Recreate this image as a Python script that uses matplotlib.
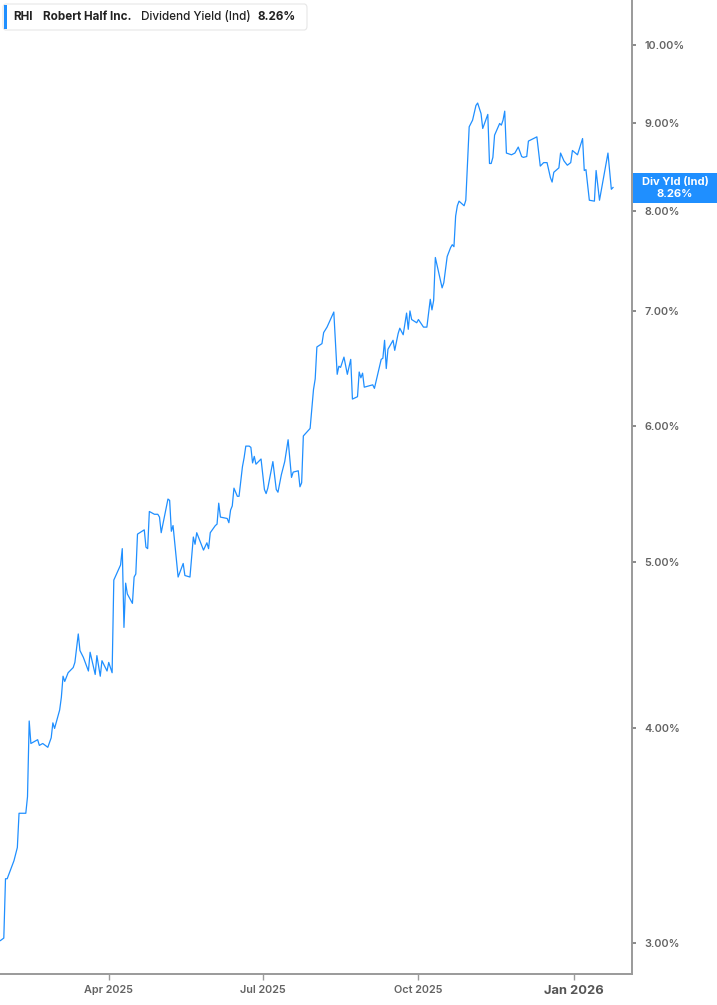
import matplotlib
matplotlib.use("Agg")
import matplotlib.pyplot as plt
from matplotlib.patches import Rectangle, FancyBboxPatch
import pandas as pd

# Robert Half (RHI) indicated dividend yield
dates = [
    "2025-01-27", "2025-01-29", "2025-01-30", "2025-01-31", "2025-02-04", "2025-02-06",
    "2025-02-07", "2025-02-11", "2025-02-12", "2025-02-13", "2025-02-14", "2025-02-18",
    "2025-02-19", "2025-02-21", "2025-02-24", "2025-02-26", "2025-02-27", "2025-02-28",
    "2025-03-03", "2025-03-04", "2025-03-05", "2025-03-06", "2025-03-08", "2025-03-11",
    "2025-03-12", "2025-03-14", "2025-03-15", "2025-03-17", "2025-03-20", "2025-03-21",
    "2025-03-24", "2025-03-25", "2025-03-27", "2025-03-28", "2025-03-31", "2025-04-01",
    "2025-04-03", "2025-04-04", "2025-04-08", "2025-04-09", "2025-04-10", "2025-04-11",
    "2025-04-12", "2025-04-15", "2025-04-16", "2025-04-17", "2025-04-18", "2025-04-22",
    "2025-04-23", "2025-04-24", "2025-04-25", "2025-04-28", "2025-04-30", "2025-05-01",
    "2025-05-02", "2025-05-06", "2025-05-07", "2025-05-08", "2025-05-09", "2025-05-12",
    "2025-05-15", "2025-05-16", "2025-05-19", "2025-05-21", "2025-05-22", "2025-05-23",
    "2025-05-27", "2025-05-29", "2025-05-30", "2025-05-31", "2025-06-03", "2025-06-04",
    "2025-06-05", "2025-06-06", "2025-06-10", "2025-06-11", "2025-06-12", "2025-06-13",
    "2025-06-14", "2025-06-16", "2025-06-17", "2025-06-19", "2025-06-20", "2025-06-21",
    "2025-06-23", "2025-06-24", "2025-06-25", "2025-06-26", "2025-06-27", "2025-06-30",
    "2025-07-02", "2025-07-03", "2025-07-04", "2025-07-07", "2025-07-09", "2025-07-10",
    "2025-07-12", "2025-07-14", "2025-07-16", "2025-07-18", "2025-07-19", "2025-07-22",
    "2025-07-23", "2025-07-24", "2025-07-25", "2025-07-29", "2025-07-31", "2025-08-01",
    "2025-08-02", "2025-08-05", "2025-08-06", "2025-08-08", "2025-08-12", "2025-08-14",
    "2025-08-15", "2025-08-16", "2025-08-18", "2025-08-20", "2025-08-22", "2025-08-23",
    "2025-08-26", "2025-08-27", "2025-08-28", "2025-08-29", "2025-08-30", "2025-09-04",
    "2025-09-05", "2025-09-09", "2025-09-10", "2025-09-11", "2025-09-12", "2025-09-13",
    "2025-09-16", "2025-09-17", "2025-09-19", "2025-09-20", "2025-09-22", "2025-09-24",
    "2025-09-25", "2025-09-26", "2025-09-27", "2025-09-30", "2025-10-01", "2025-10-04",
    "2025-10-06", "2025-10-08", "2025-10-09", "2025-10-10", "2025-10-11", "2025-10-13",
    "2025-10-15", "2025-10-16", "2025-10-18", "2025-10-20", "2025-10-21", "2025-10-22",
    "2025-10-23", "2025-10-24", "2025-10-25", "2025-10-28", "2025-10-29", "2025-10-30",
    "2025-10-31", "2025-11-02", "2025-11-04", "2025-11-05", "2025-11-07", "2025-11-08",
    "2025-11-11", "2025-11-12", "2025-11-13", "2025-11-14", "2025-11-15", "2025-11-18",
    "2025-11-19", "2025-11-20", "2025-11-21", "2025-11-22", "2025-11-25", "2025-11-27",
    "2025-11-29", "2025-12-01", "2025-12-02", "2025-12-04", "2025-12-05", "2025-12-10",
    "2025-12-12", "2025-12-14", "2025-12-16", "2025-12-18", "2025-12-19", "2025-12-20",
    "2025-12-23", "2025-12-24", "2025-12-26", "2025-12-28", "2025-12-30", "2025-12-31",
    "2026-01-03", "2026-01-06", "2026-01-07", "2026-01-08", "2026-01-10", "2026-01-13",
    "2026-01-14", "2026-01-16", "2026-01-18", "2026-01-21", "2026-01-23", "2026-01-24",
]
div_yield = [
    3.01, 3.02, 3.27, 3.27, 3.35, 3.41,
    3.57, 3.57, 3.65, 4.04, 3.92, 3.94,
    3.91, 3.92, 3.90, 3.95, 4.03, 4.00,
    4.10, 4.17, 4.29, 4.26, 4.31, 4.34,
    4.37, 4.54, 4.44, 4.40, 4.32, 4.43,
    4.30, 4.41, 4.29, 4.38, 4.32, 4.37,
    4.31, 4.88, 4.98, 5.09, 4.58, 4.86,
    4.79, 4.73, 4.90, 4.92, 5.19, 5.22,
    5.10, 5.09, 5.35, 5.33, 5.33, 5.31,
    5.20, 5.44, 5.43, 5.21, 5.25, 4.90,
    4.99, 4.91, 4.90, 5.17, 5.12, 5.20,
    5.08, 5.13, 5.09, 5.20, 5.25, 5.26,
    5.41, 5.31, 5.30, 5.27, 5.36, 5.39,
    5.52, 5.46, 5.46, 5.68, 5.75, 5.84,
    5.84, 5.83, 5.71, 5.76, 5.70, 5.74,
    5.51, 5.48, 5.52, 5.72, 5.51, 5.49,
    5.62, 5.72, 5.89, 5.60, 5.64, 5.65,
    5.53, 5.56, 5.92, 5.98, 6.30, 6.39,
    6.67, 6.70, 6.80, 6.85, 6.99, 6.43,
    6.50, 6.49, 6.58, 6.43, 6.56, 6.22,
    6.24, 6.45, 6.40, 6.44, 6.32, 6.34,
    6.31, 6.56, 6.57, 6.73, 6.48, 6.65,
    6.73, 6.64, 6.79, 6.84, 6.78, 6.98,
    6.83, 7.00, 6.92, 6.89, 6.92, 6.85,
    6.85, 7.11, 7.01, 7.10, 7.52, 7.37,
    7.22, 7.27, 7.53, 7.62, 7.65, 7.63,
    7.95, 8.06, 8.11, 8.06, 8.12, 8.54,
    8.96, 9.04, 9.22, 9.25, 9.12, 8.94,
    9.11, 8.53, 8.53, 8.60, 8.86, 9.00,
    8.98, 9.04, 9.15, 8.65, 8.63, 8.65,
    8.72, 8.61, 8.60, 8.61, 8.79, 8.84,
    8.50, 8.54, 8.54, 8.37, 8.32, 8.43,
    8.48, 8.65, 8.56, 8.51, 8.54, 8.68,
    8.63, 8.82, 8.45, 8.46, 8.12, 8.11,
    8.45, 8.12, 8.33, 8.65, 8.24, 8.26,
]
y_ticks = [3, 4, 5, 6, 7, 8, 9, 10]
x_ticks = ["2025-04-01", "2025-07-01", "2025-10-01", "2026-01-01"]
x_tick_labels = ["Apr 2025", "Jul 2025", "Oct 2025", "Jan 2026"]
ticker, company, metric = "RHI", "Robert Half Inc.", "Dividend Yield (Ind)"
tag_title = "Div Yld (Ind)"

plt.rcParams['font.family'] = ['Inter', 'DejaVu Sans']

blue = '#1f8fff'
axis_grey = '#9a9a9a'
label_grey = '#636363'

W, H = 717, 1005
fig = plt.figure(figsize=(W / 100, H / 100), dpi=100)
ax = fig.add_axes([0, 31 / H, 632 / W, 974 / H])

x = pd.to_datetime(dates)
ax.plot(x, div_yield, color=blue, lw=0.9)

ax.set_yscale('log')
ax.set_ylim(2.878, 10.62)
ax.set_xlim(pd.Timestamp("2025-01-26 18:00"), pd.Timestamp("2026-02-04 05:00"))

ax.yaxis.tick_right()
ax.yaxis.set_major_locator(matplotlib.ticker.FixedLocator(y_ticks))
ax.yaxis.set_major_formatter(matplotlib.ticker.FuncFormatter(lambda v, p: f"{v:.2f}%"))
ax.yaxis.set_minor_locator(matplotlib.ticker.NullLocator())
ax.tick_params(axis='y', which='major', length=3, width=1.2, color='#777777',
               labelsize=7.8, labelcolor=label_grey, pad=6)

ax.set_xticks(pd.to_datetime(x_ticks))
ax.set_xticklabels(x_tick_labels)
ax.tick_params(axis='x', length=4, width=1, color=axis_grey, labelsize=7.8,
               labelcolor=label_grey, pad=4)
last = ax.get_xticklabels()[-1]
for lab in ax.get_xticklabels() + ax.get_yticklabels():
    lab.set_fontweight('semibold')
last.set_fontweight('bold')
last.set_fontsize(9.3)
last.set_color('#555555')

for s in ['top', 'left']:
    ax.spines[s].set_visible(False)
for s in ['right', 'bottom']:
    ax.spines[s].set_color(axis_grey)
    ax.spines[s].set_linewidth(1.4)


def fx(px):
    return px / W


def fy(py):
    return 1 - py / H


# title box top-left
fig.patches.append(FancyBboxPatch((fx(3), fy(30)), fx(304), 26 / H,
                                  boxstyle="round,pad=0,rounding_size=0.004",
                                  transform=fig.transFigure, facecolor='white',
                                  edgecolor='#e6e6e6', lw=0.8, zorder=5))
fig.patches.append(Rectangle((fx(4), fy(29)), fx(3), 24 / H, transform=fig.transFigure,
                             facecolor=blue, edgecolor='none', zorder=6))
ty = fy(17)
fig.text(fx(13), ty, ticker, fontsize=8.4, fontweight='bold', color='#222222', va='center', zorder=7)
fig.text(fx(43), ty, company, fontsize=8.4, fontweight='bold', color='#222222', va='center', zorder=7)
fig.text(fx(141), ty, metric, fontsize=8.4, fontweight='medium', color='#222222', va='center', zorder=7)
fig.text(fx(258), ty, f"{div_yield[-1]:.2f}%", fontsize=8.4, fontweight='bold', color='#222222',
         va='center', zorder=7)

# last value tag on the right axis
fig.patches.append(Rectangle((fx(633), fy(203)), fx(84), 30 / H, transform=fig.transFigure,
                             facecolor=blue, edgecolor='none', zorder=6))
fig.text(fx(675), fy(182), tag_title, fontsize=8, fontweight='bold', color='white',
         ha='center', va='center', zorder=7)
fig.text(fx(675), fy(194), f"{div_yield[-1]:.2f}%", fontsize=8, fontweight='bold', color='white',
         ha='center', va='center', zorder=7)

fig.savefig("out.png", dpi=100, facecolor='white')
